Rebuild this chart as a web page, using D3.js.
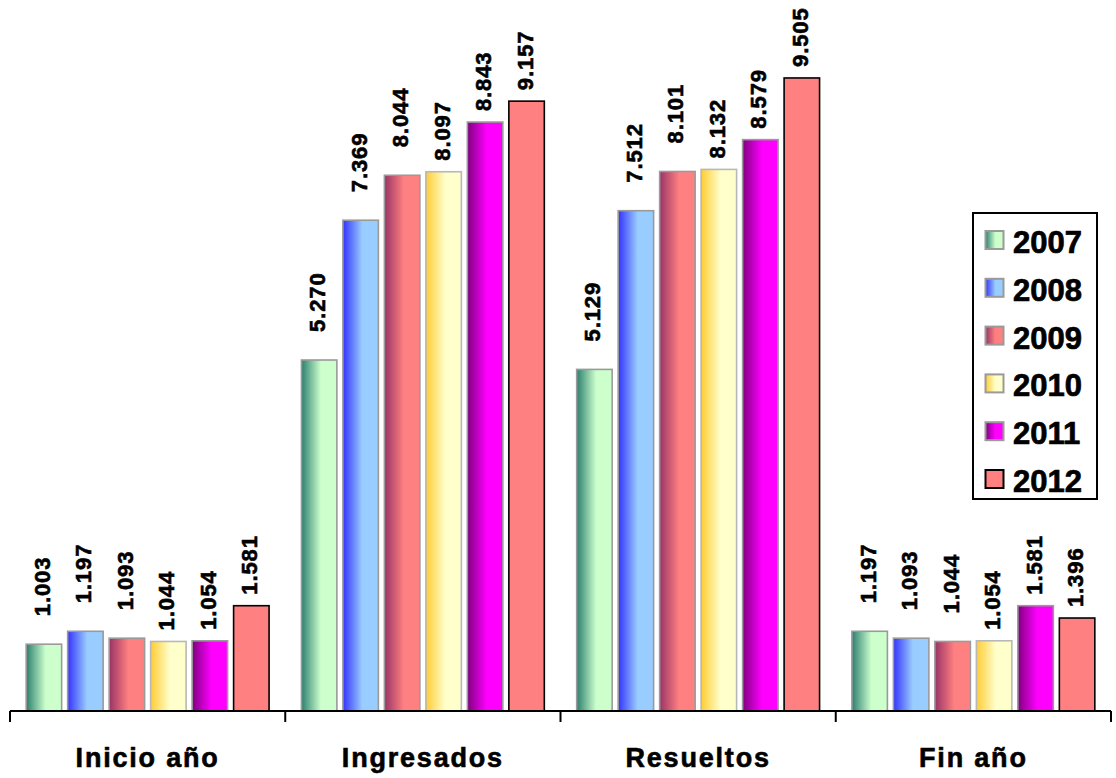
<!DOCTYPE html>
<html>
<head>
<meta charset="utf-8">
<script src="https://cdn.jsdelivr.net/npm/d3@7"></script>
<style>
  html, body { margin: 0; padding: 0; background: #fff; }
  svg { display: block; font-family: "Liberation Sans", Arial, sans-serif; }
</style>
</head>
<body>
<svg id="chart" width="1116" height="778"></svg>
<script>
// ---- Data ----
const categories = ["Inicio año", "Ingresados", "Resueltos", "Fin año"];
const years = ["2007", "2008", "2009", "2010", "2011", "2012"];
const v2007 = [1003, 5270, 5129, 1197];
const v2008 = [1197, 7369, 7512, 1093];
const v2009 = [1093, 8044, 8101, 1044];
const v2010 = [1044, 8097, 8132, 1054];
const v2011 = [1054, 8843, 8579, 1581];
const v2012 = [1581, 9157, 9505, 1396];
const seriesValues = [v2007, v2008, v2009, v2010, v2011, v2012];

// ---- Styles ----
const darkColors  = ["#2b7f70", "#3333ff", "#993366", "#ffcc33", "#800080", "#ff8080"];
const lightColors = ["#ccffcc", "#99ccff", "#ff8080", "#ffffcc", "#ff00ff", "#ff8080"];
const strokeColors = ["#9a9a9a", "#9a9a9a", "#9a9a9a", "#b8b8b8", "#9a9a9a", "#000000"];
const labelGaps = [28, 28, 28, 11, 11, 11];

const svg = d3.select("#chart");
const x0 = d3.scaleBand().domain(categories).range([10, 1111]).paddingInner(0).paddingOuter(0);
const x1 = d3.scaleBand().domain(years).range([0, x0.bandwidth()]).paddingInner(0.145).paddingOuter(0.39);
const y = d3.scaleLinear().domain([0, 10000]).range([711, 45]);

const fmt = d3.formatLocale({decimal: ",", thousands: ".", grouping: [3], currency: ["", ""]}).format(",d");

// gradients
const defs = svg.append("defs");
years.forEach((yr, i) => {
  const g = defs.append("linearGradient").attr("id", "g" + yr)
    .attr("x1", "0").attr("x2", "1").attr("y1", "0").attr("y2", "0");
  g.append("stop").attr("offset", "0").attr("stop-color", darkColors[i]);
  g.append("stop").attr("offset", "0.55").attr("stop-color", lightColors[i]);
  g.append("stop").attr("offset", "1").attr("stop-color", lightColors[i]);
});

// bars
const data = [];
categories.forEach((c, ci) => {
  years.forEach((yr, si) => {
    data.push({cat: c, year: yr, si: si, value: seriesValues[si][ci]});
  });
});

svg.append("g").selectAll("rect").data(data).join("rect")
  .attr("x", d => x0(d.cat) + x1(d.year))
  .attr("y", d => y(d.value))
  .attr("width", x1.bandwidth())
  .attr("height", d => y(0) - y(d.value))
  .attr("fill", d => "url(#g" + d.year + ")")
  .attr("stroke", d => strokeColors[d.si])
  .attr("stroke-width", 1.6);

// value labels
svg.append("g").selectAll("text").data(data).join("text")
  .attr("transform", d => {
    const cx = x0(d.cat) + x1(d.year) + x1.bandwidth() / 2 - 2;
    const cy = y(d.value) - labelGaps[d.si];
    return `translate(${cx},${cy}) rotate(-90)`;
  })
  .attr("dy", "0.36em")
  .attr("text-anchor", "start")
  .attr("font-size", 22)
  .attr("font-weight", "bold")
  .attr("letter-spacing", 0.9)
  .attr("fill", "#000")
  .attr("stroke", "#000")
  .attr("stroke-width", 0.6)
  .text(d => fmt(d.value));

// axis
const axisG = svg.append("g");
axisG.append("line")
  .attr("x1", x0.range()[0]).attr("x2", x0.range()[1])
  .attr("y1", y(0)).attr("y2", y(0))
  .attr("stroke", "#000").attr("stroke-width", 2);
const tickXs = categories.map(c => x0(c)).concat([x0.range()[1]]);
axisG.selectAll("line.tick").data(tickXs).join("line")
  .attr("class", "tick")
  .attr("x1", d => d).attr("x2", d => d)
  .attr("y1", y(0)).attr("y2", y(0) + 11)
  .attr("stroke", "#000").attr("stroke-width", 2);
axisG.selectAll("text").data(categories).join("text")
  .attr("x", d => x0(d) + x0.bandwidth() / 2)
  .attr("y", 767)
  .attr("text-anchor", "middle")
  .attr("font-size", 27)
  .attr("font-weight", "bold")
  .attr("letter-spacing", 1.8)
  .attr("stroke", "#000")
  .attr("stroke-width", 0.6)
  .text(d => d);

// legend
const leg = svg.append("g");
leg.append("rect")
  .attr("x", 973).attr("y", 213).attr("width", 124).attr("height", 286)
  .attr("fill", "#fff").attr("stroke", "#000").attr("stroke-width", 2);
const legY = d3.scalePoint().domain(years).range([231, 470]);
years.forEach((yr, i) => {
  leg.append("rect")
    .attr("x", 985.5).attr("y", legY(yr))
    .attr("width", 18).attr("height", 18)
    .attr("fill", "url(#g" + yr + ")")
    .attr("stroke", i === 5 ? "#000" : "#9a9a9a")
    .attr("stroke-width", 2);
  leg.append("text")
    .attr("x", 1013).attr("y", legY(yr) + 22)
    .attr("font-size", 31)
    .attr("font-weight", "bold")
    .attr("stroke", "#000")
    .attr("stroke-width", 0.7)
    .text(yr);
});
</script>
</body>
</html>
